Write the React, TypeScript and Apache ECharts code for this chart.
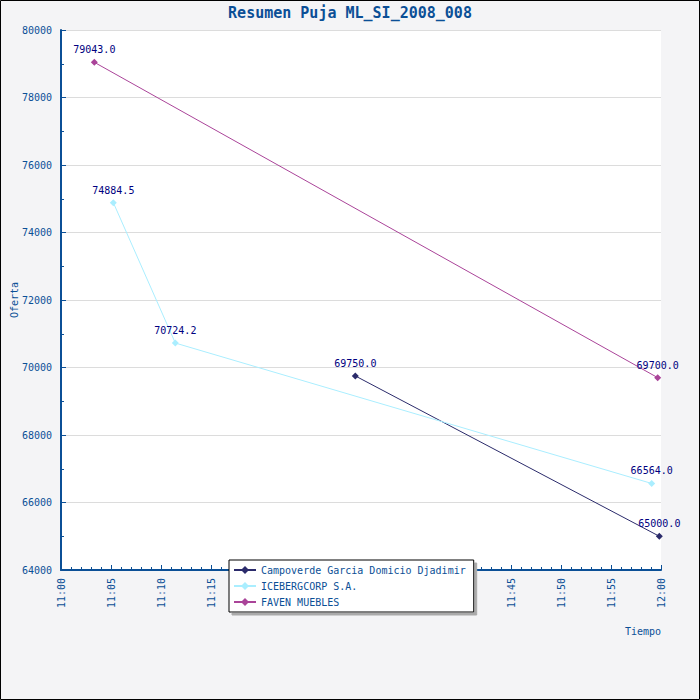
import React, { useEffect, useRef } from "react";
import * as echarts from "echarts";

const TITLE = "Resumen Puja ML_SI_2008_008";
const SERIES_NAMES = ["Campoverde Garcia Domicio Djadimir", "ICEBERGCORP S.A.", "FAVEN MUEBLES"];
const CAMPOVERDE_TIMES = ["11:29:26", "11:59:50"];
const CAMPOVERDE_VALUES = [69750.0, 65000.0];
const ICEBERG_TIMES = ["11:05:14", "11:11:26", "11:59:04"];
const ICEBERG_VALUES = [74884.5, 70724.2, 66564.0];
const FAVEN_TIMES = ["11:03:20", "11:59:40"];
const FAVEN_VALUES = [79043.0, 69700.0];
const COLORS = ["#2b2b6b", "#aaeeff", "#aa4499"];

const BLUE = "#0b4f96";
const FONT = "DejaVu Sans Mono";

const toMin = (t: string) => {
  const [h, m, s] = t.split(":").map(Number);
  return (h - 11) * 60 + m + s / 60;
};
const pair = (times: string[], vals: number[]) => times.map((t, i) => [toMin(t), vals[i]]);

export default function App() {
  const ref = useRef<HTMLDivElement>(null);
  useEffect(() => {
    const chart = echarts.init(ref.current!, null, { renderer: "svg" });
    const datasets = [
      pair(CAMPOVERDE_TIMES, CAMPOVERDE_VALUES),
      pair(ICEBERG_TIMES, ICEBERG_VALUES),
      pair(FAVEN_TIMES, FAVEN_VALUES),
    ];
    chart.setOption({
      animation: false,
      backgroundColor: "#f4f4f6",
      textStyle: { fontFamily: FONT },
      title: {
        text: TITLE,
        left: "center",
        top: 0,
        textStyle: { color: BLUE, fontSize: 15, fontWeight: "bold", fontFamily: FONT },
      },
      graphic: [
        {
          type: "rect",
          shape: { x: 0.5, y: 0.5, width: 699, height: 699 },
          style: { fill: "none", stroke: "#000", lineWidth: 1 },
          z: 100,
        },
      ],
      grid: {
        left: 61,
        top: 30,
        right: 39,
        bottom: 130,
        show: true,
        backgroundColor: "#ffffff",
        borderWidth: 0,
        containLabel: false,
        outerBoundsMode: "none",
      },
      legend: {
        orient: "vertical",
        left: 229,
        top: 560,
        padding: [5, 8, 5, 4],
        itemGap: 6,
        itemWidth: 22,
        itemHeight: 10,
        backgroundColor: "#ffffff",
        borderColor: "#000",
        borderWidth: 1,
        shadowColor: "#aaaaaa",
        shadowOffsetX: 3,
        shadowOffsetY: 3,
        shadowBlur: 0,
        textStyle: { color: BLUE, fontSize: 10, fontFamily: FONT },
        data: SERIES_NAMES,
      },
      xAxis: {
        type: "value",
        min: 0,
        max: 60,
        interval: 5,
        name: "Tiempo",
        nameLocation: "end",
        nameGap: 0,
        nameMoveOverlap: false,
        nameTextStyle: {
          color: BLUE,
          fontSize: 10,
          fontFamily: FONT,
          align: "right",
          verticalAlign: "top",
          padding: [56, 0, 0, 0],
        },
        axisLine: { show: true, lineStyle: { color: BLUE, width: 2 } },
        axisTick: { show: true, inside: true, length: 5, lineStyle: { color: BLUE } },
        minorTick: { show: true, splitNumber: 5, length: 3, lineStyle: { color: BLUE } },
        splitLine: { show: false },
        axisLabel: {
          rotate: 90,
          margin: 8,
          color: BLUE,
          fontSize: 10,
          fontFamily: FONT,
          formatter: (v: number) => {
            const h = 11 + Math.floor(v / 60);
            const m = Math.round(v % 60);
            return `${h}:${m < 10 ? "0" + m : m}`;
          },
        },
      },
      yAxis: {
        type: "value",
        min: 64000,
        max: 80000,
        interval: 2000,
        name: "Oferta",
        nameLocation: "middle",
        nameGap: 42,
        nameMoveOverlap: false,
        nameTextStyle: { color: BLUE, fontSize: 10, fontFamily: FONT },
        axisLine: { show: true, lineStyle: { color: BLUE, width: 2 } },
        axisTick: { show: true, inside: true, length: 5, lineStyle: { color: BLUE } },
        minorTick: { show: true, splitNumber: 2, length: 3, lineStyle: { color: BLUE } },
        splitLine: { show: true, lineStyle: { color: "#dcdcdc", width: 1 } },
        axisLabel: {
          color: BLUE,
          fontSize: 10,
          fontFamily: FONT,
          margin: 9,
          formatter: (v: number) => String(v),
        },
      },
      series: SERIES_NAMES.map((name, i) => ({
        name,
        type: "line",
        data: datasets[i],
        color: COLORS[i],
        symbol: "diamond",
        symbolSize: 7,
        lineStyle: { width: 1, color: COLORS[i] },
        itemStyle: { color: COLORS[i] },
        label: {
          show: true,
          position: "top",
          distance: 4,
          color: "#000080",
          fontSize: 10,
          fontFamily: FONT,
          formatter: (p: any) => Number(p.value[1]).toFixed(1),
        },
      })),
    });
    return () => chart.dispose();
  }, []);
  return (
    <div
      ref={ref}
      style={{ position: "fixed", left: 0, top: 0, width: 700, height: 700 }}
    />
  );
}
